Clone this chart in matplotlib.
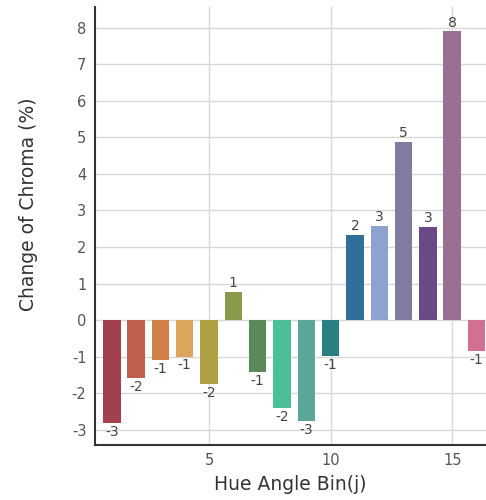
import matplotlib
matplotlib.use("Agg")
import matplotlib.pyplot as plt
import numpy as np

plt.rcParams['axes.unicode_minus'] = False

# Datos
bins = np.arange(1, 17)
change = [-2.82, -1.59, -1.10, -1.00, -1.75, 0.77, -1.42, -2.40,
          -2.77, -0.99, 2.33, 2.58, 4.88, 2.56, 7.90, -0.85]
labels = ['-3', '-2', '-1', '-1', '-2', '1', '-1', '-2',
          '-3', '-1', '2', '3', '5', '3', '8', '-1']
colors = ['#a2404f', '#c0604c', '#d07f47', '#dba55c', '#b0a044', '#8a9a4c',
          '#5a8a58', '#4cbf98', '#5aa698', '#2a7f82', '#306f9a', '#8ea2d0',
          '#807ba0', '#6a4a86', '#9a7092', '#d27092']

fig = plt.figure(figsize=(4.86, 5.0), dpi=100)
ax = fig.add_axes([0.195, 0.11, 0.805, 0.876])

ax.bar(bins, change, width=0.72, color=colors, zorder=3)

# Etiquetas de valor
for x, v, t in zip(bins, change, labels):
    if v >= 0:
        ax.text(x, v + 0.05, t, ha='center', va='bottom', fontsize=10, color='#444444', zorder=4)
    else:
        ax.text(x, v - 0.05, t, ha='center', va='top', fontsize=10, color='#444444', zorder=4)

ax.set_xlim(0.3, 16.39)
ax.set_ylim(-3.42, 8.57)
ax.set_xticks([5, 10, 15])
ax.set_yticks(np.arange(-3, 9))
ax.tick_params(axis='both', length=0, labelsize=10.5, labelcolor='#555555', pad=6)

ax.grid(True, color='#d8d8d8', linewidth=1, zorder=0)
for s in ['top', 'right']:
    ax.spines[s].set_visible(False)
for s in ['left', 'bottom']:
    ax.spines[s].set_color('#333333')
    ax.spines[s].set_linewidth(1.5)

ax.set_xlabel('Hue Angle Bin(j)', fontsize=13.5, color='#333333', labelpad=5)
ax.set_ylabel('Change of Chroma (%)', fontsize=13.5, color='#333333')
ax.yaxis.set_label_coords(-0.145, 0.55)

fig.savefig('out.png', dpi=100)
